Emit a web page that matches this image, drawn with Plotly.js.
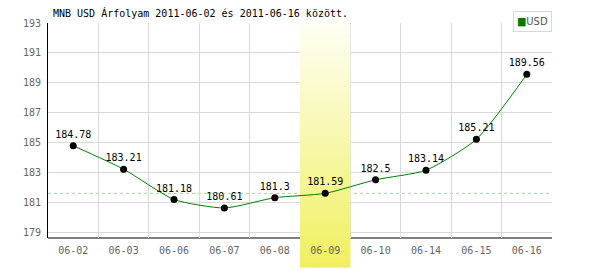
<!DOCTYPE html>
<html><head><meta charset="utf-8">
<script src="https://cdn.plot.ly/plotly-3.0.1.min.js"></script>
<style>html,body{margin:0;padding:0;background:#fff}#c{width:600px;height:270px}</style>
</head><body><div id="c"></div>
<script>
const titleText = "MNB USD Árfolyam 2011-06-02 és 2011-06-16 között.";
const seriesName = "USD";
const dates = ["06-02","06-03","06-06","06-07","06-08","06-09","06-10","06-14","06-15","06-16"];
const rates = [184.78,183.21,181.18,180.61,181.3,181.59,182.5,183.14,185.21,189.56];
const rateLabels = ["184.78","183.21","181.18","180.61","181.3","181.59","182.5","183.14","185.21","189.56"];
const yTicks = [179,181,183,185,187,189,191,193];
const selectedDate = "06-09";

const selIdx = dates.indexOf(selectedDate);
const mono = "DejaVu Sans Mono, monospace";
const yRange = [178.6, 193];

const shapes = [];
// bottom axis line (drawn under the band)
shapes.push({type:'line', xref:'paper', yref:'paper', x0:0, x1:1, y0:0, y1:0,
  line:{color:'#000', width:1}, layer:'below'});
// dashed reference line at selected day's value
shapes.push({type:'line', xref:'paper', yref:'y', x0:0, x1:1, y0:rates[selIdx], y1:rates[selIdx],
  line:{color:'#a8d0a0', width:1, dash:'3px,3px'}, layer:'below'});
// vertical gradient band: paper fraction 1 (top) down to -0.135 (below tick labels)
const bandTop = 1, bandBot = -0.135, nStrips = 45;
function mix(a,b,t){return Math.round(a+(b-a)*t);}
function toData(f){return yRange[0] + f*(yRange[1]-yRange[0]);}
for (let i=0;i<nStrips;i++){
  const t0=i/nStrips, t1=(i+1)/nStrips, tm=(t0+t1)/2;
  const col = 'rgb('+mix(254,240,tm)+','+mix(254,240,tm)+','+mix(244,96,tm)+')';
  const fTop = bandTop-(bandTop-bandBot)*t0;
  const fBot = bandTop-(bandTop-bandBot)*t1 - 0.003;
  if (fTop > 0) {
    shapes.push({type:'rect', xref:'x', yref:'y', layer:'between',
      x0:selIdx-0.5, x1:selIdx+0.5, y0:toData(Math.max(fBot,-0.01)), y1:toData(fTop),
      fillcolor:col, line:{width:0}});
  }
  if (fBot < 0) {
    shapes.push({type:'rect', xref:'x', yref:'paper', layer:'below',
      x0:selIdx-0.5, x1:selIdx+0.5, y0:fBot, y1:Math.min(fTop,0.002),
      fillcolor:col, line:{width:0}});
  }
}

const trace = {
  x: dates, y: rates, text: rateLabels,
  type:'scatter', mode:'lines+markers+text',
  line:{color:'#008000', width:1, shape:'spline', smoothing:0.6},
  marker:{color:'#000', size:7},
  textposition:'top center',
  textfont:{family:mono, size:10, color:'#000'},
  cliponaxis:false, showlegend:false, hoverinfo:'skip'
};

const layout = {
  width:600, height:270,
  margin:{l:48, r:48, t:23, b:32, pad:0},
  paper_bgcolor:'#fff', plot_bgcolor:'#fff',
  font:{family:mono, size:10, color:'#666'},
  title:{text:titleText, x:53/600, xanchor:'left', xref:'container', y:1-13/270, yanchor:'middle', yref:'container',
    font:{family:mono, size:10, color:'#000'}},
  xaxis:{type:'category', range:[-0.5, dates.length-0.5], tickson:'boundaries',
    showgrid:true, gridcolor:'#d9d9d9', gridwidth:1, showline:false, ticks:'', zeroline:false,
    tickfont:{family:mono, size:10, color:'#666'}, ticklabelstandoff:5, fixedrange:true},
  yaxis:{range:yRange, tickmode:'array', tickvals:yTicks, ticktext:yTicks.map(String),
    showgrid:true, gridcolor:'#d9d9d9', gridwidth:1, showline:true, linecolor:'#000', linewidth:1,
    ticks:'', zeroline:false, tickfont:{family:mono, size:10, color:'#666'}, ticklabelstandoff:4, fixedrange:true},
  shapes: shapes,
  annotations:[{xref:'paper', yref:'paper', x:1, y:(238-11)/215, xanchor:'right', yanchor:'top',
    text:'<span style="color:#007a00">■</span>' + seriesName, showarrow:false,
    font:{family:'Liberation Sans Narrow, DejaVu Sans Condensed, sans-serif', size:11, color:'#555'},
    bordercolor:'#d8d8d8', borderwidth:1, borderpad:3, bgcolor:'#fff', align:'left'}],
  showlegend:false
};
Plotly.newPlot('c', [trace], layout, {displayModeBar:false, staticPlot:true});
</script></body></html>
